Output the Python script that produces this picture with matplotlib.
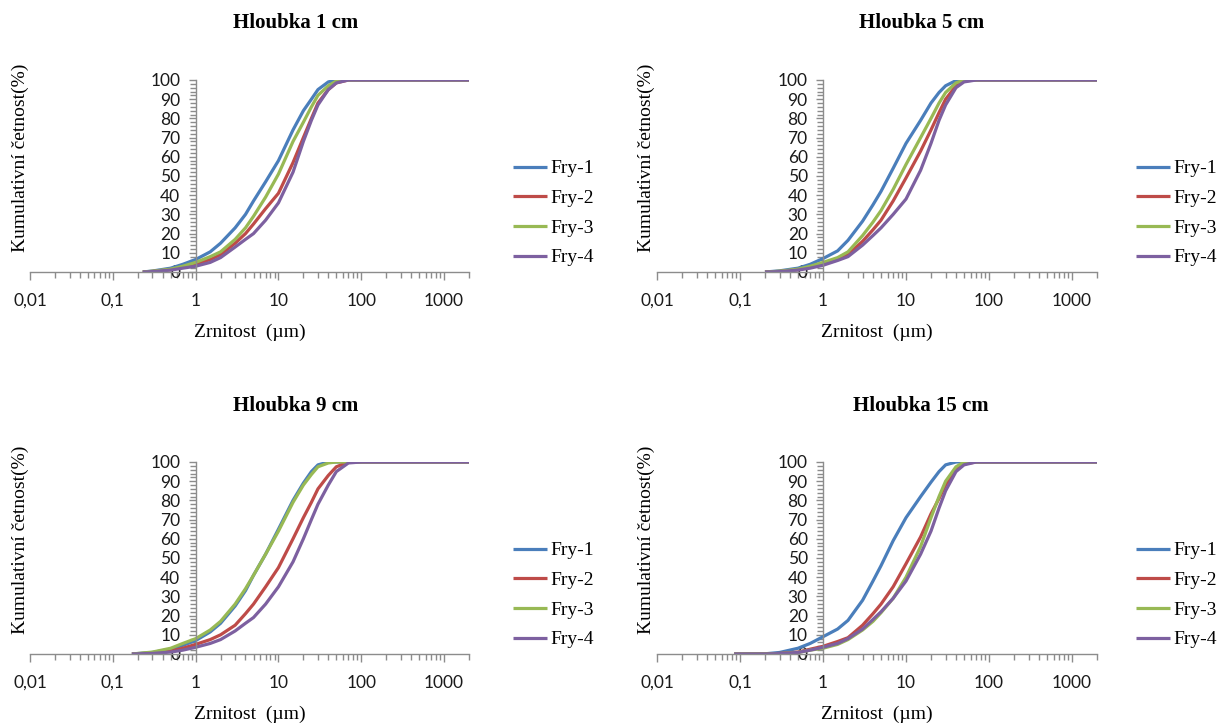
import matplotlib
matplotlib.use("Agg")
import matplotlib.pyplot as plt
from matplotlib.ticker import FixedLocator, LogLocator, NullFormatter, MultipleLocator, FixedFormatter

# ---------------- data ----------------
series_names = ["Fry-1", "Fry-2", "Fry-3", "Fry-4"]
series_colors = ["#4A7EBB", "#BE4B48", "#98B954", "#7D60A0"]
panel_titles = ["Hloubka 1 cm", "Hloubka 5 cm", "Hloubka 9 cm", "Hloubka 15 cm"]

sizes_1cm = [0.23, 0.3, 0.5, 0.7, 1, 1.5, 2, 3, 4, 5, 7, 10, 15, 20, 25, 30, 40, 50, 70, 100, 2000]
fry1_1cm = [0, 0.5, 2, 4, 6.5, 10.5, 15, 23, 30, 37, 47, 58, 74, 84, 90, 95, 99, 100, 100, 100, 100]
fry2_1cm = [0, 0.3, 1.2, 2.5, 4, 6.5, 9, 15, 20, 25, 33, 41, 57, 70, 80, 88, 95, 98.5, 100, 100, 100]
fry3_1cm = [0, 0.4, 1.5, 3, 5, 8, 10.5, 17, 23, 29, 39, 51, 68, 78, 86, 92, 97, 99.5, 100, 100, 100]
fry4_1cm = [0, 0.2, 1, 2, 3, 5, 7.5, 13, 17, 20, 27, 36, 52, 68, 79, 87, 95, 98.5, 100, 100, 100]

sizes_5cm = [0.2, 0.3, 0.5, 0.7, 1, 1.5, 2, 3, 4, 5, 7, 10, 15, 20, 25, 30, 40, 50, 70, 100, 2000]
fry1_5cm = [0, 0.6, 2, 4, 7, 11, 16.5, 26.5, 35, 42, 54, 67, 79, 88, 93.5, 97, 99.7, 100, 100, 100, 100]
fry2_5cm = [0, 0.3, 1.2, 2.5, 4, 6.5, 9, 16, 22, 27, 37, 49, 63, 74, 83, 90, 97, 99.5, 100, 100, 100]
fry3_5cm = [0, 0.4, 1.5, 3, 5, 7.5, 10.5, 19, 26, 32, 43, 56, 70, 80, 88, 93.5, 98.5, 100, 100, 100, 100]
fry4_5cm = [0, 0.2, 1, 2, 3.5, 6, 8, 14, 19, 23, 30, 38, 53, 67, 79, 87, 96, 99, 100, 100, 100]

sizes_9cm = [0.17, 0.3, 0.5, 0.7, 1, 1.5, 2, 3, 4, 5, 7, 10, 15, 20, 25, 30, 40, 50, 70, 100, 2000]
fry1_9cm = [0, 0.8, 2.5, 4.5, 7, 11.5, 16, 25, 33, 41, 52, 65, 80, 89, 95, 98.5, 100, 100, 100, 100, 100]
fry2_9cm = [0, 0.5, 1.5, 3, 5, 7.5, 10, 15, 21, 26, 35, 45, 60, 71, 79, 86, 93, 97.5, 100, 100, 100]
fry3_9cm = [0, 1, 3, 5.5, 8, 12.5, 17, 26, 34, 41, 52, 64, 79, 88, 93.5, 97.5, 99.5, 100, 100, 100, 100]
fry4_9cm = [0, 0.3, 1, 2, 3.5, 5.5, 7.5, 12, 16, 19, 26, 35, 48, 60, 70, 78, 88, 95, 99.5, 100, 100]

sizes_15cm = [0.085, 0.2, 0.3, 0.5, 0.7, 1, 1.5, 2, 3, 4, 5, 7, 10, 15, 20, 25, 30, 40, 50, 70, 100, 2000]
fry1_15cm = [0, 0.1, 0.8, 3, 5.5, 9, 13, 17.5, 28, 38, 46, 59, 71, 82, 89.5, 95, 98.5, 100, 100, 100, 100, 100]
fry2_15cm = [0, 0, 0.3, 1, 2.5, 4, 6.5, 8.5, 15, 21, 26, 35, 47, 61, 73, 81, 88, 96, 99, 100, 100, 100]
fry3_15cm = [0, 0, 0.2, 0.8, 2, 3, 5, 7.5, 12.5, 17, 21.5, 29, 40, 56, 71, 82, 90, 97.5, 100, 100, 100, 100]
fry4_15cm = [0, 0, 0.2, 0.8, 2, 3.5, 5.5, 8, 13, 18, 22, 29, 38, 52, 64, 76, 85, 95, 98.5, 100, 100, 100]

x_tick_values = [0.01, 0.1, 1, 10, 100, 1000]
x_tick_labels = ["0,01", "0,1", "1", "10", "100", "1000"]
y_tick_values = [0, 10, 20, 30, 40, 50, 60, 70, 80, 90, 100]

panels = [
    (sizes_1cm, [fry1_1cm, fry2_1cm, fry3_1cm, fry4_1cm]),
    (sizes_5cm, [fry1_5cm, fry2_5cm, fry3_5cm, fry4_5cm]),
    (sizes_9cm, [fry1_9cm, fry2_9cm, fry3_9cm, fry4_9cm]),
    (sizes_15cm, [fry1_15cm, fry2_15cm, fry3_15cm, fry4_15cm]),
]

# ---------------- layout ----------------
W, H = 1224, 725
fig = plt.figure(figsize=(W / 100, H / 100), dpi=100)

serif = "Liberation Serif"
tickfont = "Lato"
axis_gray = "#8C8C8C"

# pixel boxes: (left, right, top(y=100), bottom(y=0))
boxes = [(30, 469, 80, 272), (657, 1097, 80, 272), (30, 469, 462, 654), (657, 1097, 462, 654)]
title_pos = [(296, 23), (922, 23), (296, 406), (921, 406)]
ylabel_x = [20, 646, 20, 646]
legend_x = [513, 1136, 513, 1136]

for i, ((sizes, vals), (l, r, t, b)) in enumerate(zip(panels, boxes)):
    ax = fig.add_axes([l / W, 1 - b / H, (r - l) / W, (b - t) / H])
    for name, col, v in zip(series_names, series_colors, vals):
        ax.plot(sizes, v, color=col, lw=2.3, label=name, solid_capstyle="butt")
    ax.set_xscale("log")
    ax.set_xlim(0.01, 2000)
    ax.set_ylim(0, 100)
    for s in ["top", "right"]:
        ax.spines[s].set_visible(False)
    ax.spines["left"].set_position(("data", 1))
    for s in ["left", "bottom"]:
        ax.spines[s].set_color(axis_gray)
        ax.spines[s].set_linewidth(1.0)
    ax.xaxis.set_major_locator(FixedLocator(x_tick_values))
    ax.xaxis.set_major_formatter(FixedFormatter(x_tick_labels))
    ax.xaxis.set_minor_locator(LogLocator(base=10, subs=range(2, 10), numticks=20))
    ax.xaxis.set_minor_formatter(NullFormatter())
    ax.yaxis.set_major_locator(FixedLocator(y_tick_values))
    ax.yaxis.set_minor_locator(MultipleLocator(2))
    ax.tick_params(axis="x", which="major", direction="out", length=6, width=1,
                   color=axis_gray, pad=9, labelsize=12.5, labelcolor="#1a1a1a")
    ax.tick_params(axis="x", which="minor", direction="out", length=4, width=1, color=axis_gray)
    ax.tick_params(axis="y", which="major", direction="out", length=5, width=1,
                   color=axis_gray, pad=6, labelsize=12.5, labelcolor="#1a1a1a")
    ax.tick_params(axis="y", which="minor", direction="out", length=4, width=1, color=axis_gray)
    for lab in ax.get_xticklabels() + ax.get_yticklabels():
        lab.set_fontfamily(tickfont)
    ax.set_xlabel("Zrnitost  (\u00b5m)", fontfamily=serif, fontsize=14, labelpad=11)
    ax.patch.set_alpha(0)

    tx, ty = title_pos[i]
    fig.text(tx / W, 1 - ty / H, panel_titles[i], ha="center", va="center",
             fontfamily=serif, fontweight="bold", fontsize=15)
    fig.text(ylabel_x[i] / W, 1 - ((t + b) / 2 - 18) / H, "Kumulativní četnost(%)",
             rotation=90, ha="center", va="center", fontfamily=serif, fontsize=14)
    leg = ax.legend(loc="center left", bbox_to_anchor=(legend_x[i] / W, 1 - ((t + b) / 2 + 37) / H),
                    bbox_transform=fig.transFigure, frameon=False,
                    prop={"family": serif, "size": 14}, handlelength=1.75,
                    handletextpad=0.15, labelspacing=0.62, borderaxespad=0, borderpad=0)

fig.savefig("out.png", dpi=100)
